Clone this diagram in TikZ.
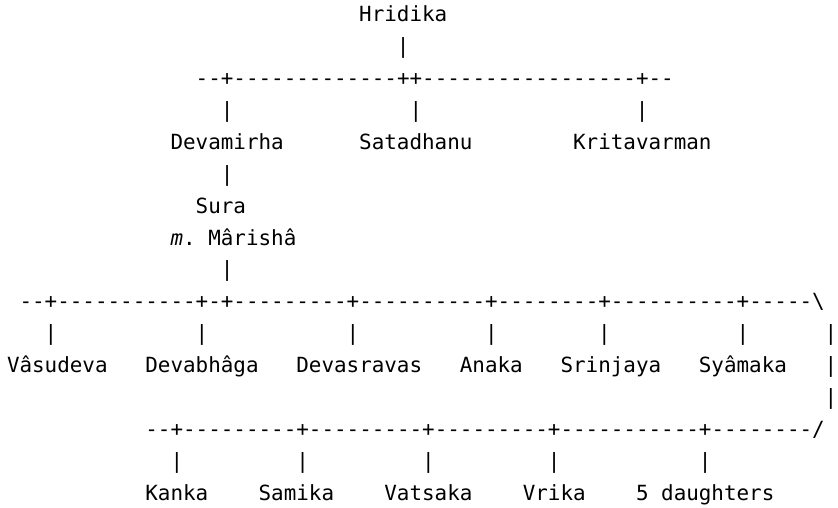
\documentclass[tikz,border=0pt]{standalone}
\usepackage{fontspec}
\setmonofont{DejaVu Sans Mono}
\tikzset{
  asc/.style={inner sep=0pt, outer sep=0pt, font=\ttfamily\fontsize{20.9}{26}\selectfont},
  wordl/.style={asc, anchor=base west},
  vbar/.style={asc, anchor=base}
}
\begin{document}
\begin{tikzpicture}[x=1pt, y=-1pt]

  %% ════ Hridika and his sons ════
  \node[wordl] (hridika) at (359.24,21.7) {Hridika};
  \node[vbar] (barHridika) at (403.25,53.6) {|};
  \node[wordl] (row1) at (195.7,85.5) {--+-------------++-----------------+--};
  \node[vbar] (barDevamirha) at (227.13,117.4) {|};
  \node[vbar] (barSatadhanu) at (415.83,117.4) {|};
  \node[vbar] (barKritavarman) at (642.27,117.4) {|};
  \node[wordl] (devamirha) at (170.54,149.3) {Devamirha};
  \node[wordl] (satadhanu) at (359.24,149.3) {Satadhanu};
  \node[wordl] (kritavarman) at (573.1,149.3) {Kritavarman};

  %% ════ Sura ════
  \node[vbar] (barSura) at (227.13,181.2) {|};
  \node[wordl] (sura) at (195.7,213.1) {Sura};
  \node[wordl] (marisha) at (170.54,245.0) {\textit{m}. Mârishâ};
  \node[vbar] (barMarisha) at (227.13,276.9) {|};

  %% ════ sons of Sura ════
  \node[wordl] (row2) at (19.58,308.8) {--+-----------+-+---------+----------+--------+----------+-----\textbackslash};
  \node[vbar] (barVasudeva) at (51.03,340.7) {|};
  \node[vbar] (barDevabhaga) at (201.97,340.7) {|};
  \node[vbar] (barDevasravas) at (352.93,340.7) {|};
  \node[vbar] (barAnaka) at (491.31,340.7) {|};
  \node[vbar] (barSrinjaya) at (604.53,340.7) {|};
  \node[vbar] (barSyamaka) at (742.91,340.7) {|};
  \node[vbar] (barRight1) at (831.01,340.7) {|};
  \node[wordl] (vasudeva) at (7,372.6) {Vâsudeva};
  \node[wordl] (devabhaga) at (145.38,372.6) {Devabhâga};
  \node[wordl] (devasravas) at (296.34,372.6) {Devasravas};
  \node[wordl] (anaka) at (459.88,372.6) {Anaka};
  \node[wordl] (srinjaya) at (560.52,372.6) {Srinjaya};
  \node[wordl] (syamaka) at (698.9,372.6) {Syâmaka};
  \node[vbar] (barRight2) at (831.01,372.6) {|};
  \node[vbar] (barRight3) at (831.01,404.5) {|};

  %% ════ the rest ════
  \node[wordl] (row3) at (145.38,436.4) {--+---------+---------+---------+-----------+--------/};
  \node[vbar] (barKanka) at (176.87,468.3) {|};
  \node[vbar] (barSamika) at (302.61,468.3) {|};
  \node[vbar] (barVatsaka) at (428.41,468.3) {|};
  \node[vbar] (barVrika) at (554.21,468.3) {|};
  \node[vbar] (barDaughters) at (705.17,468.3) {|};
  \node[wordl] (kanka) at (145.38,500.2) {Kanka};
  \node[wordl] (samika) at (258.6,500.2) {Samika};
  \node[wordl] (vatsaka) at (384.4,500.2) {Vatsaka};
  \node[wordl] (vrika) at (522.78,500.2) {Vrika};
  \node[wordl] (daughters) at (636,500.2) {5 daughters};

  % fix the canvas to the reference size
  \pgfresetboundingbox
  \path[use as bounding box] (0,0) rectangle (838,507);
\end{tikzpicture}
\end{document}
